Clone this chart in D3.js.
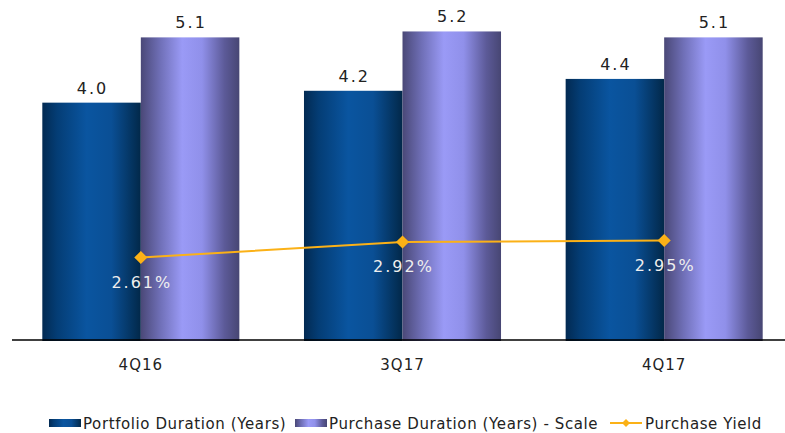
<!DOCTYPE html>
<html>
<head>
<meta charset="utf-8">
<script src="https://cdn.jsdelivr.net/npm/d3@7/dist/d3.min.js"></script>
<style>
  body { margin: 0; background: #fff; }
  svg { display: block; font-family: "DejaVu Sans", Verdana, sans-serif; }
</style>
</head>
<body>
<svg id="chart" width="785" height="433"></svg>
<script>
// DATA ////////////////////////////////////////////////////////////////
var quarters = ["4Q16", "3Q17", "4Q17"];
var seriesNames = ["Portfolio Duration (Years)", "Purchase Duration (Years) - Scale"];
var portfolioDuration = [4.0, 4.2, 4.4];
var purchaseDuration = [5.1, 5.2, 5.1];
var purchaseYield = [2.61, 2.92, 2.95];
var yieldLabels = ["2.61%", "2.92%", "2.95%"];
var lineName = "Purchase Yield";

// SETUP ///////////////////////////////////////////////////////////////
const BASE_Y = 340;
const YIELD_COLOUR = "#fbb117";

var svg = d3.select("#chart");
var defs = svg.append("defs");

function addGradient(id, stops) {
    var g = defs.append("linearGradient").attr("id", id)
        .attr("x1", "0%").attr("x2", "100%").attr("y1", "0%").attr("y2", "0%");
    stops.forEach(function (s) {
        g.append("stop").attr("offset", s[0]).attr("stop-color", s[1]);
    });
}
addGradient("gradBlue", [["0%", "#022a52"], ["15%", "#043d75"], ["45%", "#0a55a0"], ["70%", "#0a4f95"], ["100%", "#022849"]]);
addGradient("gradPurple", [["0%", "#4a4877"], ["20%", "#7070b8"], ["42%", "#9a9af6"], ["62%", "#9090ea"], ["85%", "#5c5a98"], ["100%", "#474673"]]);
var fills = ["url(#gradBlue)", "url(#gradPurple)"];

// scales
var x0 = d3.scaleBand().domain(quarters).range([10, 795]);
var x1 = d3.scaleBand().domain([0, 1]).range([0, x0.bandwidth()])
    .paddingInner(0).paddingOuter(0.328);
var y = d3.scaleLinear().domain([0, 5.73]).range([BASE_Y, 0]);
var yYield = d3.scaleLinear().domain([2, 4]).range([288, 188]);

var barData = [];
quarters.forEach(function (q, i) {
    [portfolioDuration[i], purchaseDuration[i]].forEach(function (v, s) {
        barData.push({ q: q, s: s, v: v });
    });
});

// bars
svg.append("g").selectAll("rect")
    .data(barData)
    .enter()
    .append("rect")
    .attr("x", function (d) { return x0(d.q) + x1(d.s); })
    .attr("y", function (d) { return y(d.v); })
    .attr("width", x1.bandwidth())
    .attr("height", function (d) { return BASE_Y + 1 - y(d.v); })
    .attr("fill", function (d) { return fills[d.s]; });

// bar labels
svg.append("g").selectAll("text")
    .data(barData)
    .enter()
    .append("text")
    .attr("x", function (d) { return x0(d.q) + x1(d.s) + x1.bandwidth() / 2 + 1; })
    .attr("y", function (d) { return y(d.v) - 9; })
    .style("text-anchor", "middle")
    .style("font-size", "16px")
    .style("letter-spacing", "2px")
    .style("fill", "#222")
    .text(function (d) { return d.v.toFixed(1); });

// axis line
svg.append("line")
    .attr("x1", 12).attr("x2", 785)
    .attr("y1", BASE_Y).attr("y2", BASE_Y)
    .attr("stroke", "#000").attr("stroke-width", 1.5);

// category labels
svg.append("g").selectAll("text")
    .data(quarters)
    .enter()
    .append("text")
    .attr("x", function (d) { return x0(d) + x0.bandwidth() / 2; })
    .attr("y", 370)
    .style("text-anchor", "middle")
    .style("font-size", "15px")
    .style("letter-spacing", "1px")
    .style("fill", "#222")
    .text(function (d) { return d; });

// yield line
var line = d3.line()
    .x(function (d, i) { return x0(quarters[i]) + x0.bandwidth() / 2; })
    .y(function (d) { return yYield(d); });

svg.append("path")
    .datum(purchaseYield)
    .attr("d", line)
    .attr("fill", "none")
    .attr("stroke", YIELD_COLOUR)
    .attr("stroke-width", 2);

svg.append("g").selectAll("path")
    .data(purchaseYield)
    .enter()
    .append("path")
    .attr("d", d3.symbol().type(d3.symbolDiamond2).size(110))
    .attr("transform", function (d, i) {
        return "translate(" + (x0(quarters[i]) + x0.bandwidth() / 2) + "," + yYield(d) + ")";
    })
    .attr("fill", YIELD_COLOUR);

svg.append("g").selectAll("text")
    .data(purchaseYield)
    .enter()
    .append("text")
    .attr("x", function (d, i) { return x0(quarters[i]) + x0.bandwidth() / 2 + 1; })
    .attr("y", function (d) { return yYield(d) + 30; })
    .style("text-anchor", "middle")
    .style("font-size", "16px")
    .style("letter-spacing", "2px")
    .style("fill", "#eeeeee")
    .text(function (d, i) { return yieldLabels[i]; });

// legend
var legend = svg.append("g").style("font-size", "15px").style("letter-spacing", "0.6px").style("fill", "#222");
var legendX = [49, 295];
seriesNames.forEach(function (name, s) {
    legend.append("rect")
        .attr("x", legendX[s]).attr("y", 419)
        .attr("width", 32).attr("height", 8)
        .attr("fill", fills[s]);
    legend.append("text")
        .attr("x", legendX[s] + 34).attr("y", 429)
        .text(name);
});
legend.append("line")
    .attr("x1", 610).attr("x2", 642).attr("y1", 423).attr("y2", 423)
    .attr("stroke", YIELD_COLOUR).attr("stroke-width", 2);
legend.append("path")
    .attr("d", d3.symbol().type(d3.symbolDiamond2).size(40))
    .attr("transform", "translate(626,423)")
    .attr("fill", YIELD_COLOUR);
legend.append("text")
    .attr("x", 645).attr("y", 429)
    .text(lineName);
</script>
</body>
</html>
